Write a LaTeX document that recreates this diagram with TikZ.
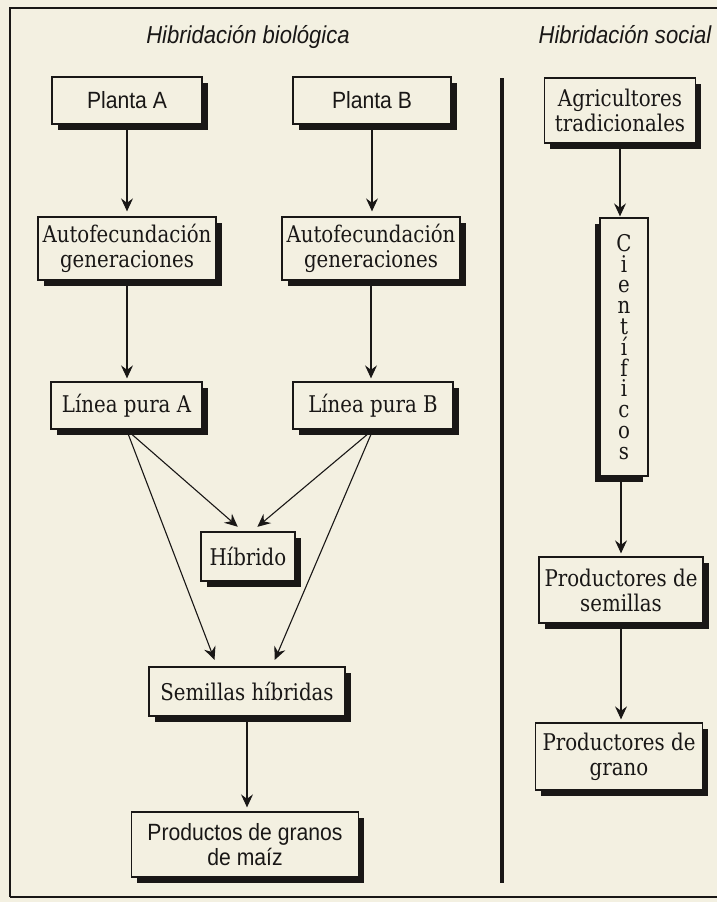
\documentclass[tikz,border=0pt]{standalone}
\usepackage{fontspec}
\usetikzlibrary{arrows.meta,shadows}
\newfontfamily\boxserif[FakeStretch=0.86]{DejaVu Serif}
\newfontfamily\boxsans[FakeStretch=0.9]{Liberation Sans}
\definecolor{paper}{RGB}{243,240,225}
\definecolor{ink}{RGB}{25,23,22}
\begin{document}
\begin{tikzpicture}[x=1pt,y=-1pt,
  boxbase/.style={draw=ink, line width=1.3pt, fill=paper, inner sep=0pt, align=center, text=ink},
  shadowR/.style={drop shadow={shadow xshift=5.5pt, shadow yshift=-5.5pt, opacity=1, fill=ink}},
  shadowL/.style={drop shadow={shadow xshift=-5.5pt, shadow yshift=-5.5pt, opacity=1, fill=ink}},
  serifbox/.style={boxbase, shadowR, font=\boxserif\fontsize{23}{25}\selectfont},
  sansbox/.style={boxbase, shadowR, font=\boxsans\fontsize{23.5}{25}\selectfont},
  conn/.style={draw=ink, line width=1.1pt, -{Stealth[length=13pt,width=12pt,inset=4.5pt]}},
  title/.style={font=\boxsans\itshape\fontsize{24.5}{28}\selectfont, text=ink, anchor=base},
  frame/.style={draw=ink, line width=2.8pt}
]
\useasboundingbox (0,0) rectangle (717,902);
\fill[paper] (0,0) rectangle (717,902);

% frame
\coordinate (ftl) at (10,8);
\coordinate (ftr) at (717,8);
\coordinate (fbl) at (10,897);
\coordinate (fbr) at (717,897);
\draw[frame] (ftr) -- (ftl) -- (fbl);
\draw[draw=ink, line width=1.2pt] (fbl) -- (fbr);
% divider
\coordinate (dtop) at (502,78);
\coordinate (dbot) at (502,883);
\draw[draw=ink, line width=4.8pt] (dtop) -- (dbot);

% titles
\node[title] (t1) at (248,43) {Hibridación biológica};
\node[title] (t2) at (625,43) {Hibridación social};

% left column
\node[sansbox, minimum width=150pt, minimum height=47pt] (PA) at (127,100.5) {Planta A};
\node[sansbox, minimum width=158pt, minimum height=47pt] (PB) at (372,100.5) {Planta B};
\node[serifbox, minimum width=178pt, minimum height=63pt] (AFL) at (127,248.5) {Autofecundación\\generaciones};
\node[serifbox, minimum width=178pt, minimum height=63pt] (AFR) at (371,248.5) {Autofecundación\\generaciones};
\node[serifbox, minimum width=151pt, minimum height=47pt] (LA) at (126.5,405.5) {Línea pura A};
\node[serifbox, minimum width=160pt, minimum height=47pt] (LB) at (373,405.5) {Línea pura B};
\node[serifbox, minimum width=94pt, minimum height=49pt] (HI) at (248,556.5) {Híbrido};
\node[serifbox, minimum width=196pt, minimum height=49pt] (SH) at (247,691.5) {Semillas híbridas};
\node[sansbox, minimum width=227pt, minimum height=65pt] (PM) at (245,844.5) {Productos de granos\\de maíz};

% right column
\node[serifbox, minimum width=151pt, minimum height=65pt] (AG) at (620,110.5) {Agricultores\\tradicionales};
\node[boxbase, shadowL, font=\boxserif\fontsize{23}{20.8}\selectfont, minimum width=48pt, minimum height=258pt] (CI) at (624,347)
  {C\\i\\e\\n\\t\\í\\f\\i\\c\\o\\s};
\node[serifbox, minimum width=164pt, minimum height=66pt] (PS) at (621,590) {Productores de\\semillas};
\node[serifbox, minimum width=167pt, minimum height=67pt] (PG) at (619,756.5) {Productores de\\grano};

% connectors left
\draw[conn, shorten >=5pt] (PA.south) -- (PA.south |- AFL.north);
\draw[conn, shorten >=5pt] (PB.south) -- (PB.south |- AFR.north);
\draw[conn, shorten >=3pt] (AFL.south) -- (AFL.south |- LA.north);
\draw[conn, shorten >=3pt] (AFR.south) -- (AFR.south |- LB.north);
\draw[conn, shorten >=7pt] (LA.south) -- ([xshift=-5pt]HI.north);
\draw[conn, shorten >=7pt] (LB.south) -- ([xshift=4pt]HI.north);
\draw[conn, shorten >=7pt] (LA.south) -- ([xshift=-30pt]SH.north);
\draw[conn, shorten >=7pt] (LB.south) -- ([xshift=25pt]SH.north);
\draw[conn, shorten >=4pt] (SH.south) -- (SH.south |- PM.north);

% connectors right
\draw[conn, shorten >=1pt] (AG.south) -- (AG.south |- CI.north);
\draw[conn, shorten >=3pt] (CI.south -| PS.north) -- (PS.north);
\draw[conn, shorten >=3pt] (PS.south) -- (PS.south |- PG.north);
\end{tikzpicture}
\end{document}
